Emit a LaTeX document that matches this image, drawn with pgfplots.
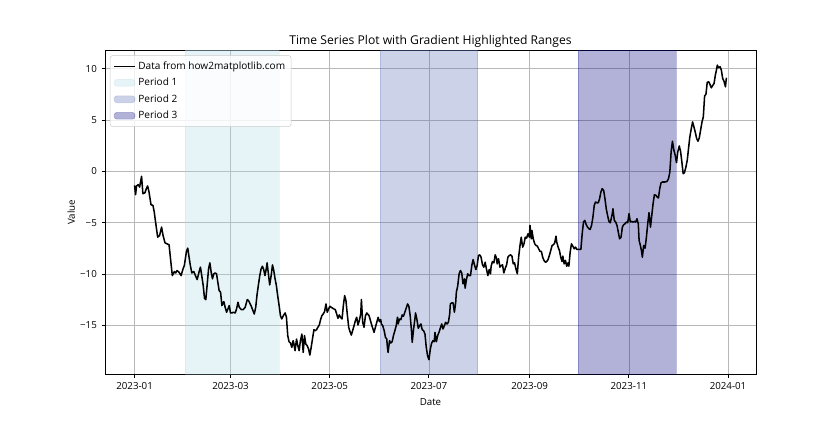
\documentclass[border=0pt]{standalone}
\usepackage{pgfplots}
\pgfplotsset{compat=1.18}
\usepackage{fontspec}
\setmainfont{Open Sans}
\definecolor{c1}{RGB}{173,216,230}
\definecolor{c2}{RGB}{86,108,179}
\definecolor{c3}{RGB}{0,0,128}
\begin{document}
\begin{tikzpicture}
\path[use as bounding box] (-78.75pt,-34.65pt) rectangle (551.25pt,280.8pt);
\begin{axis}[
  scale only axis, width=488.25pt, height=243pt,
  xmin=-18.2, xmax=382.2, ymin=-19.77, ymax=11.77,
  xtick={0,59,120,181,243,304,365},
  xticklabels={2023-01,2023-03,2023-05,2023-07,2023-09,2023-11,2024-01},
  ytick={-15,-10,-5,0,5,10},
  yticklabels={−15,−10,−5,0,5,10},
  grid=major, grid style={color=black!28, line width=0.5pt},
  axis line style={line width=0.6pt},
  tick align=outside, tick pos=left, major tick length=2.6pt,
  every tick/.style={black, line width=0.6pt},
  ticklabel style={font=\fontsize{7.3}{8}\selectfont},
  xlabel={Date}, ylabel={Value},
  label style={font=\fontsize{7.3}{8}\selectfont},
  ylabel style={xshift=0pt, yshift=-3pt},
  title={Time Series Plot with Gradient Highlighted Ranges},
  title style={font=\fontsize{9.1}{10}\selectfont, yshift=-7pt},
  legend cell align=left,
  legend style={at={(0.0075,0.985)}, anchor=north west, draw=black!20, fill=white,
    fill opacity=0.8, text opacity=1, rounded corners=2pt,
    font=\fontsize{7.55}{8}\selectfont, row sep=1.1pt, inner sep=2.5pt},
]
\addplot[forget plot, draw=c1, draw opacity=0.25, fill=c1, fill opacity=0.3, line width=0.5pt]
  coordinates {(31,-19.77) (89,-19.77) (89,11.77) (31,11.77)} -- cycle;
\addplot[forget plot, draw=c2, draw opacity=0.25, fill=c2, fill opacity=0.3, line width=0.5pt]
  coordinates {(151,-19.77) (211,-19.77) (211,11.77) (151,11.77)} -- cycle;
\addplot[forget plot, draw=c3, draw opacity=0.25, fill=c3, fill opacity=0.3, line width=0.5pt]
  coordinates {(273,-19.77) (333,-19.77) (333,11.77) (273,11.77)} -- cycle;

\addplot[black, line width=1.15pt, line join=round,
  legend image code/.code={\draw[black, line width=1.15pt] (0pt,0pt) -- (15.5pt,0pt);}] coordinates {
(0,-1.37) (0.6,-2.28) (1.2,-1.43) (2.2,-1.30) (3.1,-1.53) (4.3,-0.49) (5.1,-2.18) (6.4,-2.08) (7.2,-1.69) (8.0,-1.43) (8.8,-1.95) (10.1,-3.25) (11.3,-3.32) (12.1,-3.97) (12.9,-4.94) (14.2,-6.41) (15.4,-6.24) (16.6,-5.43) (17.5,-6.24) (18.7,-6.96) (19.9,-7.06) (21.2,-7.15) (22.0,-8.36) (23.2,-10.15) (24.5,-9.76) (25.3,-9.89) (26.1,-9.66) (27.3,-9.82) (28.6,-10.15) (29.8,-9.50) (30.6,-9.17) (31.9,-7.80) (32.7,-7.48) (33.5,-8.36) (34.3,-9.17) (35.2,-9.89) (36.4,-9.76) (37.6,-10.21) (38.5,-10.54) (39.7,-9.76) (40.5,-9.33) (41.3,-10.15) (42.2,-11.12) (43.0,-12.36) (43.8,-12.49) (44.6,-11.12) (45.5,-9.50) (46.3,-8.91) (47.1,-9.82) (47.9,-10.47) (48.7,-9.98) (49.6,-9.89) (50.4,-9.98) (51.2,-10.80) (52.0,-11.61) (52.9,-11.77) (53.7,-13.07) (54.9,-12.68) (55.7,-13.24) (56.6,-13.72) (57.4,-13.40) (58.2,-13.07) (59.0,-13.79) (59.9,-13.79) (60.7,-13.72) (61.9,-13.79) (62.7,-13.40) (63.6,-12.75) (64.4,-13.24) (65.6,-13.46) (66.8,-13.46) (68.0,-13.24) (69.3,-12.49) (70.1,-12.59)
(71.6,-13.07) (72.8,-13.56) (73.6,-13.89) (74.5,-13.24) (75.3,-12.03) (76.1,-11.12) (77.0,-10.15) (77.8,-9.50) (78.6,-9.24) (79.4,-9.56) (80.2,-10.15) (81.05,-9.43) (81.5,-8.91) (82.3,-9.98) (83.1,-11.06) (84.0,-10.15) (84.8,-9.11) (85.6,-9.66) (86.4,-10.47) (87.2,-11.12) (88.0,-12.10) (88.9,-13.07) (89.7,-14.05) (90.5,-14.37) (91.75,-13.98) (92.6,-13.79) (93.4,-14.21) (94.2,-16.00) (95.0,-16.59) (95.9,-16.72) (96.7,-17.14) (97.5,-16.49) (97.9,-16.72) (98.7,-17.46) (99.6,-16.33) (100.4,-16.98) (101.2,-17.46) (102.0,-16.49) (102.9,-15.84) (103.7,-17.63) (104.5,-16.00) (105.3,-16.81) (106.2,-16.98) (107.0,-17.30) (107.8,-17.89) (108.6,-17.14) (109.4,-16.33) (110.3,-15.42) (111.1,-15.51) (111.9,-15.42) (112.7,-15.19) (113.6,-14.96) (114.4,-14.44) (115.2,-14.05) (116.0,-13.89) (116.85,-13.66) (117.7,-12.91) (118.5,-13.72) (119.3,-13.40) (120.1,-13.14) (121.0,-13.24) (121.8,-13.33) (122.6,-13.40) (123.4,-13.46) (124.3,-13.89) (125.1,-14.31) (125.9,-13.98) (126.7,-14.21) (127.6,-14.37) (128.4,-13.07) (129.2,-12.10) (130.0,-12.59) (130.8,-13.89) (131.7,-15.19) (132.5,-15.61) (133.3,-15.94) (134.1,-15.51) (135.0,-15.02) (135.8,-14.54) (136.6,-14.21) (137.4,-14.96) (138.2,-14.54) (139.1,-13.89) (139.5,-12.49) (140.3,-14.70) (141.1,-15.19) (142.0,-14.05) (142.8,-13.79) (144.2,-14.05)
(145.65,-14.86) (146.5,-15.29) (147.3,-15.68) (148.1,-15.19) (148.95,-14.70) (149.8,-14.21) (150.6,-14.63) (151.4,-14.44) (151.8,-14.86) (152.6,-15.02) (153.5,-15.51) (154.3,-16.16) (155.1,-16.33) (155.5,-17.14) (155.9,-17.63) (156.8,-16.49) (157.6,-16.72) (158.4,-16.59) (159.2,-16.00) (160.1,-15.51) (160.9,-15.03) (161.7,-14.21) (162.1,-14.86) (162.9,-14.38) (163.8,-14.44) (164.6,-13.98) (165.4,-14.11) (166.2,-13.72) (167.05,-13.33) (167.9,-12.91) (168.7,-13.14) (169.5,-14.05) (170.3,-15.51) (170.75,-16.65) (171.6,-15.35) (172.4,-14.38) (172.8,-13.79) (173.6,-14.38) (174.5,-15.29) (175.3,-15.03) (176.1,-14.86) (176.9,-15.42) (177.75,-15.51) (178.6,-15.84) (179.4,-17.14) (180.2,-17.95) (181.05,-18.34) (181.9,-17.30) (182.7,-16.72) (183.5,-16.49) (184.3,-16.59) (184.75,-15.68) (185.6,-16.59) (186.4,-16.00) (187.2,-15.68) (188.0,-15.29) (188.9,-14.86) (189.7,-15.35) (190.5,-15.03) (191.3,-14.70) (192.2,-14.86) (193.0,-14.70) (193.8,-13.89) (194.2,-12.91) (195.0,-12.81) (195.9,-12.81) (196.7,-13.72) (197.5,-12.75) (197.9,-11.77) (198.7,-11.19) (199.6,-9.98) (200.4,-9.66) (201.2,-9.89) (202.0,-10.96) (202.9,-10.47) (203.3,-11.38) (204.1,-10.54) (204.9,-9.98) (205.7,-10.15) (206.6,-10.15) (207.4,-9.17) (208.2,-8.59) (209.03,-9.11) (209.9,-9.56) (210.7,-9.17) (211.5,-8.20) (212.3,-8.13) (213.1,-8.36) (214.0,-9.11) (214.8,-9.33) (215.6,-8.85) (216.4,-9.50) (217.3,-10.15)
(218.1,-9.56) (218.9,-9.98) (219.3,-9.24) (220.1,-8.78) (221.0,-8.91) (221.8,-8.13) (222.6,-8.46) (223.0,-9.01) (223.85,-8.52) (224.7,-9.33) (225.5,-9.17) (226.3,-9.11) (227.1,-9.89) (228.0,-9.43) (228.8,-9.11) (229.6,-8.36) (230.4,-8.20) (231.3,-8.13) (232.1,-8.26) (232.9,-9.01) (233.7,-8.91) (234.55,-9.50) (235.4,-9.98) (236.2,-8.36) (237.0,-7.28) (237.8,-6.41) (238.7,-7.38) (239.5,-7.06) (240.3,-6.41) (241.1,-6.50) (242.0,-6.08) (242.8,-6.41) (243.2,-5.27) (244.0,-6.57) (244.4,-5.76) (245.2,-6.57) (246.1,-7.06) (246.9,-7.22) (247.7,-7.28) (248.5,-7.54) (249.4,-7.80) (250.2,-7.80) (251.0,-8.36) (251.8,-8.68) (252.7,-8.85) (253.5,-8.78) (254.3,-8.59) (255.1,-8.20) (255.95,-7.71) (256.8,-7.22) (257.6,-7.15) (258.4,-6.96) (259.2,-6.31) (259.65,-6.89) (260.5,-7.38) (261.3,-7.71) (262.1,-8.36) (262.9,-8.78) (263.4,-8.26) (264.2,-9.01) (265.0,-8.68) (265.8,-9.24) (266.6,-8.91) (267.1,-9.24) (267.9,-7.87) (268.7,-7.06) (269.5,-7.28) (270.4,-7.54) (271.2,-7.38) (272.0,-7.61) (272.8,-7.61) (273.6,-7.61) (274.5,-7.61) (275.3,-6.08) (276.1,-4.94) (276.9,-4.78) (277.8,-5.20) (278.6,-5.43) (279.4,-5.59) (280.2,-5.66) (281.05,-5.27) (281.9,-4.46) (282.7,-3.32) (283.5,-2.99) (284.3,-3.06) (285.2,-3.06) (286.0,-2.67) (286.8,-2.02) (287.6,-1.69) (288.5,-1.85) (289.3,-2.67) (290.1,-3.64) (290.9,-4.29) (291.75,-4.88) (292.6,-5.01)
(293.8,-4.13) (294.2,-3.64) (295.04,-4.78) (295.9,-4.94) (296.7,-5.27) (297.5,-5.92) (298.3,-6.57) (299.2,-6.41) (300.0,-5.43) (300.8,-5.20) (301.6,-5.11) (302.4,-4.94) (303.3,-5.01) (304.1,-4.13) (304.9,-4.94) (305.7,-4.88) (306.6,-4.94) (307.4,-4.88) (308.2,-4.94) (309.0,-4.62) (309.8,-5.11) (310.3,-6.73) (311.1,-7.22) (311.9,-7.87) (312.3,-8.36) (313.1,-7.22) (314.0,-7.48) (314.8,-6.41) (315.6,-5.11) (316.4,-4.03) (317.3,-5.43) (318.1,-4.29) (318.9,-3.15) (319.7,-2.28) (320.6,-2.34) (321.4,-2.50) (322.2,-2.60) (323.0,-1.69) (323.8,-1.11) (324.7,-1.04) (325.5,-1.04) (326.3,-1.04) (327.5,-0.98) (328.4,-0.72) (329.2,-0.07) (330.0,1.89) (330.8,2.93) (331.7,2.05) (332.5,1.56) (333.3,0.84) (334.1,1.89) (335.0,2.47) (335.8,1.95) (336.6,0.91) (337.4,-0.23) (338.2,-0.13) (339.1,0.42) (339.9,1.07) (340.7,2.21) (341.5,3.35) (342.4,4.16) (343.2,4.81) (344.0,4.33) (344.8,3.84) (345.7,3.19) (346.5,2.93) (347.3,3.25) (348.1,3.98) (349.0,4.81) (349.8,5.30) (350.6,7.35) (351.4,7.48) (352.2,8.65) (353.1,8.72) (353.9,8.46) (354.7,8.13) (355.5,8.33) (356.4,8.55) (357.2,9.37) (358.0,9.95) (358.4,10.34) (359.2,10.08) (360.1,10.18) (360.9,9.85) (361.7,9.04) (362.5,8.78) (363.4,8.23) (364,9.11)
};
\addlegendentry{Data from how2matplotlib.com}
\addlegendimage{legend image code/.code={\filldraw[fill=c1, fill opacity=0.3, draw=c1, draw opacity=0.25, line width=0.5pt] (0pt,-2.55pt) rectangle (15.5pt,2.55pt);}}
\addlegendentry{Period 1}
\addlegendimage{legend image code/.code={\filldraw[fill=c2, fill opacity=0.3, draw=c2, draw opacity=0.25, line width=0.5pt] (0pt,-2.55pt) rectangle (15.5pt,2.55pt);}}
\addlegendentry{Period 2}
\addlegendimage{legend image code/.code={\filldraw[fill=c3, fill opacity=0.3, draw=c3, draw opacity=0.25, line width=0.5pt] (0pt,-2.55pt) rectangle (15.5pt,2.55pt);}}
\addlegendentry{Period 3}
\end{axis}
\end{tikzpicture}
\end{document}
